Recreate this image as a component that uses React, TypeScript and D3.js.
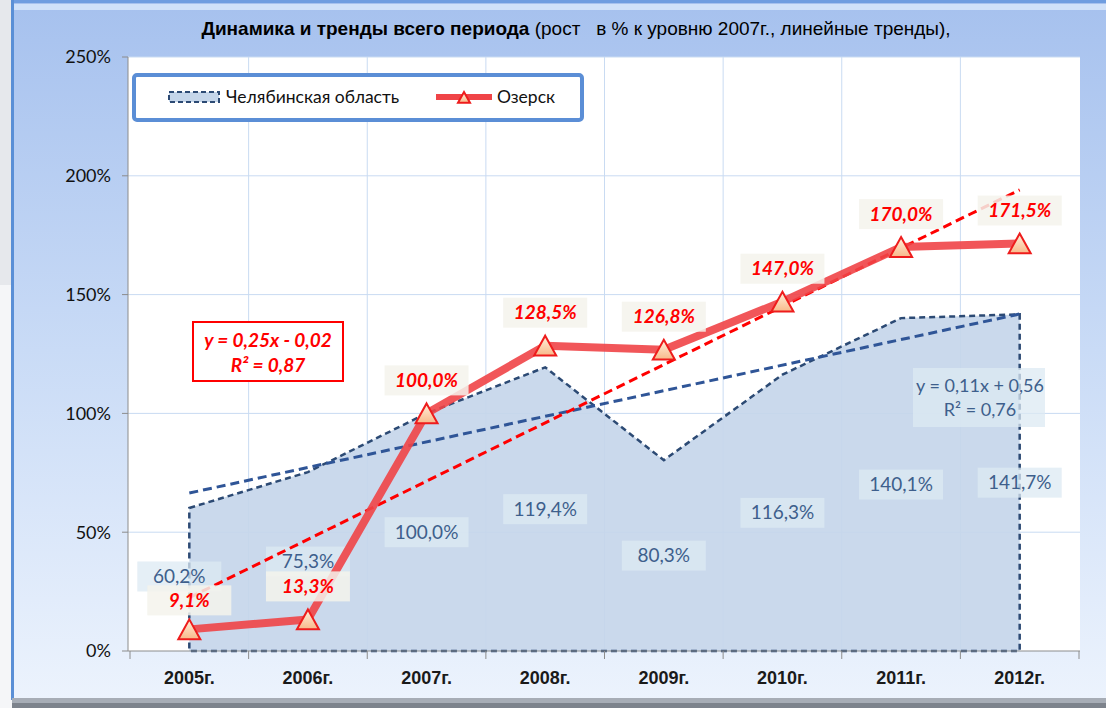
import React from "react";
import * as d3 from "d3";

const years = ["2005г.", "2006г.", "2007г.", "2008г.", "2009г.", "2010г.", "2011г.", "2012г."];
const chelyabinsk = [60.2, 75.3, 100.0, 119.4, 80.3, 116.3, 140.1, 141.7];
const ozersk = [9.1, 13.3, 100.0, 128.5, 126.8, 147.0, 170.0, 171.5];
const yTicks = [0, 50, 100, 150, 200, 250];

const W = 1106;
const H = 708;
const plot = { left: 128, right: 1080, top: 57, bottom: 651 };

const fmt = (v: number) => v.toFixed(1).replace(".", ",") + "%";

// least squares line through x = 1..n
const trend = (vals: number[]) => {
  const xs = vals.map((_, i) => i + 1);
  const mx = d3.mean(xs)!;
  const my = d3.mean(vals)!;
  const sxy = d3.sum(xs, (x, i) => (x - mx) * (vals[i] - my));
  const sxx = d3.sum(xs, (x) => (x - mx) * (x - mx));
  const b = sxy / sxx;
  const a = my - b * mx;
  return [a + b * 1, a + b * vals.length];
};

const App = () => {
  const x = d3.scaleBand().domain(years).range([130, 1079]);
  const y = d3.scaleLinear().domain([0, 250]).range([plot.bottom, plot.top]);
  const cx = (i: number) => x(years[i])! + x.bandwidth() / 2;

  const areaPath = d3
    .area<number>()
    .x((_, i) => cx(i))
    .y0(y(0))
    .y1((d) => y(d))(chelyabinsk)!;

  const linePath = d3
    .line<number>()
    .x((_, i) => cx(i))
    .y((d) => y(d))(ozersk)!;

  const tChel = trend(chelyabinsk);
  const tOz = trend(ozersk);

  const tri = (px: number, py: number, s = 11) =>
    `M${px},${py - s} L${px + s},${py + s * 0.8} L${px - s},${py + s * 0.8} Z`;

  const sans = "Lato, 'Open Sans', sans-serif";
  const narrow = "'Liberation Sans Narrow', 'Liberation Sans', sans-serif";

  return (
    <div style={{ position: "absolute", left: 0, top: 0 }}>
      <svg width={W} height={H} style={{ display: "block" }}>
        <defs>
          <linearGradient id="panel" x1="0" y1="0" x2="0" y2="1">
            <stop offset="0" stopColor="#a6c1ee" />
            <stop offset="0.5" stopColor="#c9dbf6" />
            <stop offset="1" stopColor="#ecf3fd" />
          </linearGradient>
          <linearGradient id="marker" x1="0" y1="0" x2="0" y2="1">
            <stop offset="0" stopColor="#fff1de" />
            <stop offset="1" stopColor="#f8b98a" />
          </linearGradient>
        </defs>

        {/* page + panel */}
        <rect x={0} y={0} width={W} height={H} fill="#f5f6f8" />
        <rect x={0} y={0} width={12} height={285} fill="#e6e8ec" />
        <rect x={12} y={0} width={W - 12} height={700} fill="url(#panel)" />
        <rect x={12} y={0} width={W - 12} height={3} fill="#6f9de0" />
        <rect x={12} y={4} width={W - 12} height={6} fill="#dbe8fb" opacity={0.8} />
        <rect x={11} y={0} width={3} height={700} fill="#5a8fd6" />
        <rect x={12} y={698} width={W - 12} height={10} fill="#a7adb6" />
        <rect x={12} y={703} width={W - 12} height={5} fill="#7d838c" />

        {/* title */}
        <text x={576} y={35} textAnchor="middle" fontFamily={narrow} fontSize={19} fill="#000" style={{ whiteSpace: "pre" }}>
          <tspan fontWeight="bold">Динамика и тренды всего периода</tspan>
          <tspan>{" (рост   в % к уровню 2007г., линейные тренды),"}</tspan>
        </text>

        {/* plot area */}
        <rect x={plot.left} y={plot.top} width={plot.right - plot.left} height={plot.bottom - plot.top} fill="#fff" />
        {yTicks.slice(1).map((t) => (
          <line key={t} x1={plot.left} x2={plot.right} y1={y(t)} y2={y(t)} stroke="#c9dbf2" strokeWidth={1} />
        ))}
        {years.slice(1).map((yr) => (
          <line key={yr} x1={x(yr)!} x2={x(yr)!} y1={plot.top} y2={plot.bottom} stroke="#c9dbf2" strokeWidth={1} />
        ))}

        {/* Chelyabinsk area */}
        <path d={areaPath} fill="#c5d6ea" opacity={0.92} />
        <path d={areaPath} fill="none" stroke="#2c4a74" strokeWidth={2.5} strokeDasharray="6,4" />

        {/* axes */}
        <line x1={plot.left} x2={plot.left} y1={plot.top} y2={plot.bottom} stroke="#8c8c8c" />
        <line x1={plot.left} x2={plot.right} y1={plot.bottom} y2={plot.bottom} stroke="#8c8c8c" />
        {yTicks.map((t) => (
          <g key={t} transform={`translate(0,${y(t)})`}>
            <line x1={plot.left - 6} x2={plot.left} stroke="#8c8c8c" />
            <text x={111} dy="0.35em" textAnchor="end" fontFamily={sans} fontSize={18} fill="#111">
              {t}%
            </text>
          </g>
        ))}
        {[...years.map((yr) => x(yr)!), x.range()[1]].map((px, i) => (
          <line key={i} x1={px} x2={px} y1={plot.bottom} y2={plot.bottom + 8} stroke="#8c8c8c" />
        ))}
        {years.map((yr, i) => (
          <text key={yr} x={cx(i)} y={684} textAnchor="middle" fontFamily={narrow} fontWeight="bold" fontSize={18} fill="#1a1a1a">
            {yr}
          </text>
        ))}

        {/* Chelyabinsk labels */}
        {chelyabinsk.map((v, i) => {
          const lx = cx(i) - (i === 0 ? 10 : 0);
          const ly = y(v / 2) - (i === 0 ? 3 : 0);
          return (
            <g key={i}>
              <rect x={lx - 42} y={ly - 15} width={84} height={30} fill="#dce9f3" opacity={0.75} />
              <text x={lx} y={ly} dy="0.35em" textAnchor="middle" fontFamily={sans} fontSize={19} fill="#3e5f8c">
                {fmt(v)}
              </text>
            </g>
          );
        })}

        {/* trend lines */}
        <line x1={cx(0)} x2={cx(7)} y1={y(tChel[0])} y2={y(tChel[1])} stroke="#2f5597" strokeWidth={3} strokeDasharray="9,5" />
        <line x1={cx(0)} x2={cx(7)} y1={y(tOz[0])} y2={y(tOz[1])} stroke="#ff0000" strokeWidth={3} strokeDasharray="9,5" />

        {/* Ozersk line + markers */}
        <path d={linePath} fill="none" stroke="#f04447" strokeWidth={8} opacity={0.9} strokeLinejoin="round" />
        {ozersk.map((v, i) => (
          <path key={i} d={tri(cx(i), y(v) + 1)} fill="url(#marker)" stroke="#ee1c1c" strokeWidth={2} />
        ))}

        {/* Ozersk labels */}
        {ozersk.map((v, i) => {
          const lx = cx(i);
          const ly = y(v) - 33 + (i === 0 ? 4 : 0);
          return (
            <g key={i}>
              <rect x={lx - 42} y={ly - 15} width={84} height={30} fill="#f5f3ec" opacity={0.85} />
              <text x={lx} y={ly} dy="0.35em" textAnchor="middle" fontFamily={sans} fontWeight="bold" fontStyle="italic" fontSize={19} fill="#ff0000">
                {fmt(v)}
              </text>
            </g>
          );
        })}

        {/* equation boxes */}
        <rect x={193} y={322} width={150} height={59} fill="#fff" stroke="#ff0000" strokeWidth={2} />
        <text x={268} y={347} textAnchor="middle" fontFamily={sans} fontWeight="bold" fontStyle="italic" fontSize={19} fill="#ff0000">
          y = 0,25x - 0,02
        </text>
        <text x={268} y={372} textAnchor="middle" fontFamily={sans} fontWeight="bold" fontStyle="italic" fontSize={19} fill="#ff0000">
          R² = 0,87
        </text>

        <rect x={913} y={368} width={132} height={59} fill="#dce9f3" opacity={0.75} />
        <text x={980} y={392} textAnchor="middle" fontFamily={sans} fontSize={18} fill="#3e5f8c">
          y = 0,11x + 0,56
        </text>
        <text x={980} y={416} textAnchor="middle" fontFamily={sans} fontSize={18} fill="#3e5f8c">
          R² = 0,76
        </text>

        {/* legend */}
        <rect x={134} y={75} width={448} height={45} rx={3} fill="#fff" stroke="#5b8ed6" strokeWidth={4} />
        <rect x={169} y={92} width={50} height={10} fill="#c5d6ea" stroke="#2c4a74" strokeWidth={2} strokeDasharray="5,3" />
        <text x={226} y={97} dy="0.35em" fontFamily={sans} fontSize={17.5} fill="#111">
          Челябинская область
        </text>
        <line x1={436} x2={492} y1={97} y2={97} stroke="#f04447" strokeWidth={6} />
        <path d={tri(464, 98, 6)} fill="url(#marker)" stroke="#ee1c1c" strokeWidth={2} />
        <text x={497} y={97} dy="0.35em" fontFamily={sans} fontSize={17.5} fill="#111">
          Озерск
        </text>
      </svg>
    </div>
  );
};

export default App;
